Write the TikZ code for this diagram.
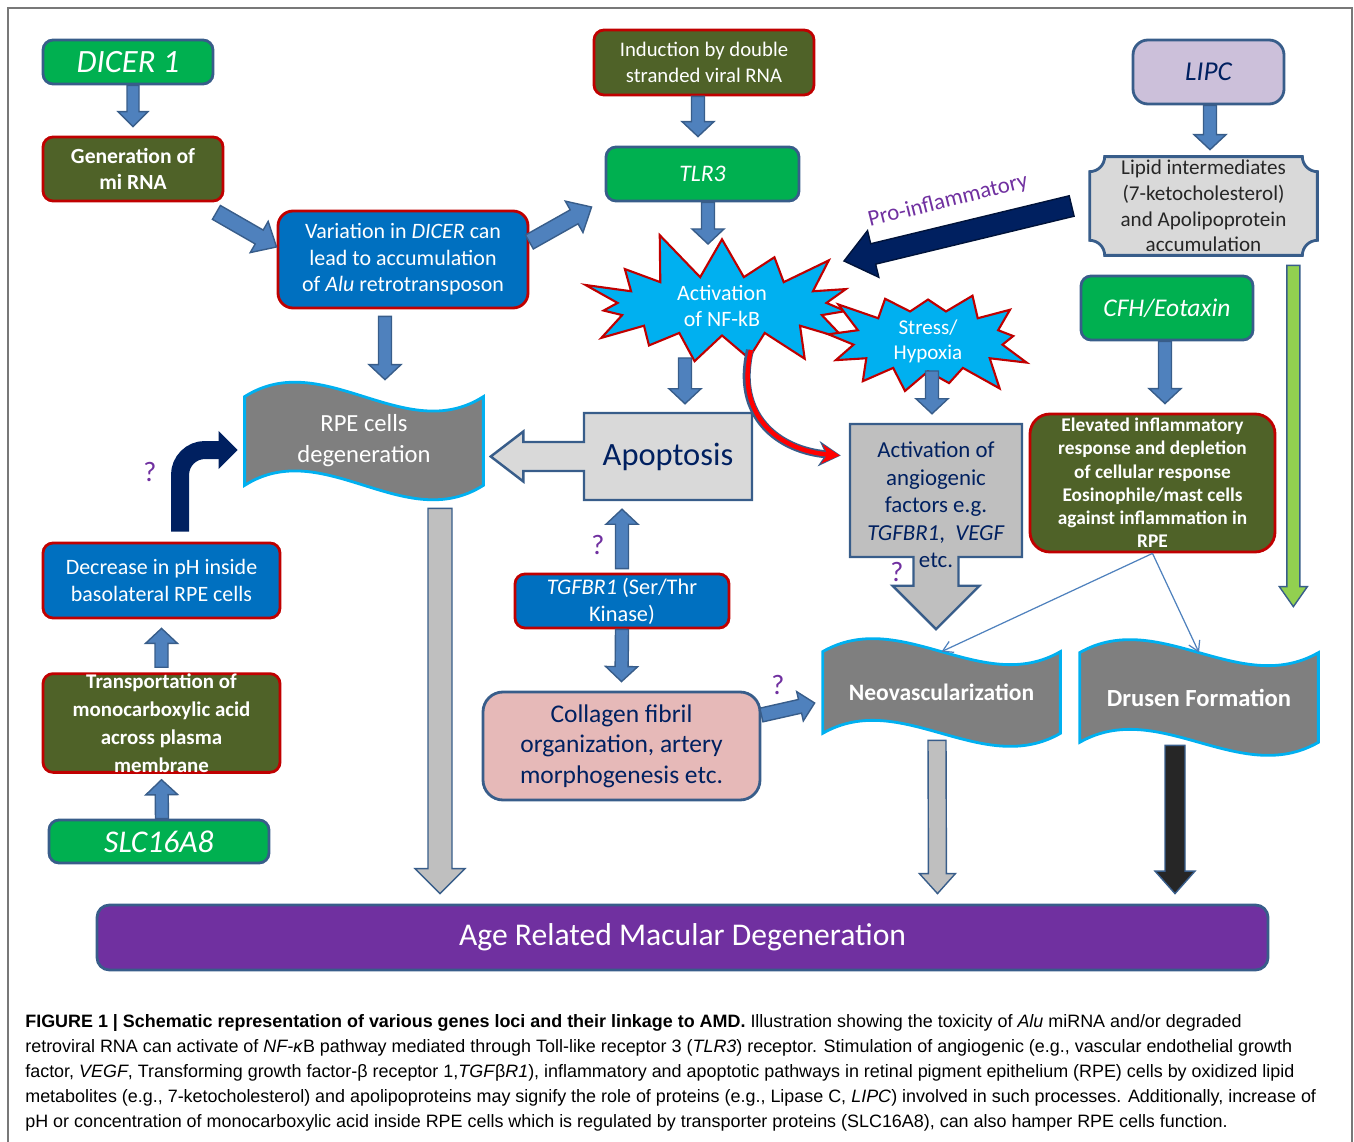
\documentclass[tikz,border=0pt]{standalone}
\usepackage{fontspec}
\setmainfont{Carlito}
\newfontfamily\capfont{Liberation Sans}
\usetikzlibrary{arrows.meta,calc,shapes.symbols,shapes.arrows,backgrounds}

\definecolor{olivebg}{RGB}{79,98,40}
\definecolor{boxred}{RGB}{192,0,0}
\definecolor{genegreen}{RGB}{0,176,80}
\definecolor{edgeblue}{RGB}{56,93,138}
\definecolor{boxblue}{RGB}{0,112,192}
\definecolor{arrblue}{RGB}{79,129,189}
\definecolor{burstcyan}{RGB}{0,176,240}
\definecolor{wavegray}{RGB}{127,127,127}
\definecolor{lightgray}{RGB}{217,217,217}
\definecolor{midgray}{RGB}{191,191,191}
\definecolor{darknavy}{RGB}{0,32,96}
\definecolor{qpurple}{RGB}{112,48,160}
\definecolor{pinkbg}{RGB}{230,185,184}
\definecolor{lavender}{RGB}{204,192,218}
\definecolor{limegreen}{RGB}{146,208,80}
\definecolor{nearblack}{RGB}{38,38,38}
\definecolor{framegray}{RGB}{120,120,120}

% block arrow: [style]{from}{to}{half shaft}{half head}{head length}
\newcommand\blockarrow[6][]{%
    \path (#2) coordinate (bas) (#3) coordinate (bae);
    \pgfpointdiff{\pgfpointanchor{bas}{center}}{\pgfpointanchor{bae}{center}}%
    \pgfgetlastxy{\badx}{\bady}%
    \pgfmathsetmacro\balen{veclen(\badx,\bady)}%
    \pgfmathsetmacro\baang{atan2(\bady,\badx)}%
    \draw[barrow,#1,shift={(bas)},rotate=\baang] (0pt,#4) -- ({\balen pt-#6},#4) -- ({\balen pt-#6},#5) -- (\balen pt,0pt) -- ({\balen pt-#6},-#5) -- ({\balen pt-#6},-#4) -- (0pt,-#4) -- cycle;
}
% wavy banner round a node: {node}{control offset}
\newcommand\wave[2]{%
    \filldraw[wavebox] (#1.north west) .. controls ($(#1.north west)!0.33!(#1.north east)+(0,-#2)$) and ($(#1.north west)!0.67!(#1.north east)+(0,#2)$) .. (#1.north east) -- (#1.south east) .. controls ($(#1.south west)!0.67!(#1.south east)+(0,#2)$) and ($(#1.south west)!0.33!(#1.south east)+(0,-#2)$) .. (#1.south west) -- cycle;
}

\begin{document}
\begin{tikzpicture}[x=0.2mm,y=-0.2mm,font=\fontsize{12.5}{15}\selectfont]
    \tikzstyle{box}=[rectangle,rounded corners=2mm,line width=1.6pt,align=center,inner sep=0pt]
    \tikzstyle{genebox}=[box,fill=genegreen,draw=edgeblue,text=white]
    \tikzstyle{olivebox}=[box,fill=olivebg,draw=boxred,text=white]
    \tikzstyle{bluebox}=[box,fill=boxblue,draw=boxred,text=white]
    \tikzstyle{wave}=[rectangle,text=white,align=center,inner sep=0pt]
    \tikzstyle{wavebox}=[fill=wavegray,draw=burstcyan,line width=1.6pt]
    \tikzstyle{burst}=[starburst,fill=burstcyan,draw=boxred,line width=1.2pt,text=white,align=center,inner sep=0pt]
    \tikzstyle{barrow}=[fill=arrblue,draw=edgeblue,line width=0.8pt]
    \tikzstyle{thinarr}=[draw=arrblue,line width=0.7pt,-{Straight Barb[length=2mm,width=2.4mm]}]
    \tikzstyle{qmark}=[text=qpurple,font=\fontsize{16}{16}\selectfont]

    \useasboundingbox (0,0) rectangle (1354,1142);
    \draw[framegray,line width=0.8pt] (8,1142) -- (8,8) -- (1352,8) -- (1352,1142);

    \node[genebox,minimum width=34mm,minimum height=8.8mm,font=\fontsize{18.5}{20}\selectfont\itshape] (dicer) at (128,62) {DICER 1};
    \node[olivebox,minimum width=36mm,minimum height=12.8mm,font=\fontsize{12.3}{15}\selectfont\bfseries] (gen) at (133,169) {Generation of\\mi RNA};
    \node[bluebox,rounded corners=3mm,minimum width=50mm,minimum height=19.4mm] (var) at (403,259.5) {Variation in \textit{DICER} can\\lead to accumulation\\of \textit{Alu} retrotransposon};
    \node[olivebox,minimum width=44mm,minimum height=13mm,font=\fontsize{11.8}{14.5}\selectfont] (induct) at (704,62.5) {Induction by double\\stranded viral RNA};
    \node[genebox,minimum width=38.6mm,minimum height=10.8mm,font=\fontsize{13.5}{15}\selectfont\itshape] (tlr) at (702.5,174) {TLR3};
    \node[burst,minimum width=62mm,minimum height=28mm,starburst points=15,starburst point height=10mm,random starburst=11] (nfkb) at (722,306) {Activation\\of NF-kB};
    \node[box,rounded corners=3mm,fill=lavender,draw=edgeblue,text=darknavy,minimum width=30.2mm,minimum height=12.8mm,font=\fontsize{15.5}{17}\selectfont\itshape] (lipc) at (1208.5,72) {LIPC};
    \node[align=center,text=nearblack,minimum width=45.4mm,minimum height=19.6mm,inner sep=0pt,font=\fontsize{12}{14.6}\selectfont] (lipid) at (1203.5,206) {Lipid intermediates\\(7-ketocholesterol)\\and Apolipoprotein\\accumulation};
    \node[text=qpurple,rotate=14,font=\fontsize{13}{13}\selectfont] (proinf) at (948,201) {Pro-inflammatory};
    \node[burst,minimum width=44mm,minimum height=22mm,starburst points=13,starburst point height=7mm,random starburst=3,font=\fontsize{12}{14.2}\selectfont] (stress) at (928,341) {Stress/\\Hypoxia};
    \node[genebox,minimum width=34.4mm,minimum height=12.8mm,font=\fontsize{14.5}{16}\selectfont\itshape] (cfh) at (1167,308) {CFH/Eotaxin};
    \node[olivebox,rounded corners=4mm,minimum width=49mm,minimum height=27.6mm,font=\fontsize{11}{13.2}\selectfont\bfseries] (elev) at (1152.5,483) {Elevated inflammatory\\response and depletion\\of cellular response\\Eosinophile/mast cells\\against inflammation in\\RPE};
    \node[arrow box,arrow box arrows={south:14.2mm},arrow box shaft width=9mm,arrow box head extend=4.2mm,fill=midgray,draw=edgeblue,line width=1.4pt,minimum width=34.4mm,minimum height=26.6mm] (angio) at (936,490.5) {};
    \node[text=darknavy,align=center,font=\fontsize{13}{15.6}\selectfont] (angiotext) at (936,505) {Activation of\\angiogenic\\factors e.g.\\\textit{TGFBR1}, \ \textit{VEGF}\\etc.};
    \node[arrow box,arrow box arrows={west:18.4mm},arrow box shaft width=5.8mm,arrow box head extend=2.1mm,arrow box tip angle=75,fill=lightgray,draw=edgeblue,line width=1.4pt,minimum width=33.6mm,minimum height=17.4mm,text=darknavy,font=\fontsize{18.5}{20}\selectfont] (apop) at (668,456.5) {Apoptosis};
    \node[wave,minimum width=47.6mm,minimum height=17.6mm,font=\fontsize{14}{17.6}\selectfont] (rpe) at (364,441) {RPE cells\\degeneration};
    \node[bluebox,minimum width=47.4mm,minimum height=15mm] (decr) at (161.5,580.5) {Decrease in pH inside\\basolateral RPE cells};
    \node[olivebox,minimum width=47.4mm,minimum height=19.2mm,font=\fontsize{11.9}{15.9}\selectfont\bfseries] (trans) at (161.5,723) {Transportation of\\monocarboxylic acid\\across plasma\\membrane};
    \node[genebox,minimum width=44mm,minimum height=8.6mm,font=\fontsize{18}{20}\selectfont\itshape] (slc) at (159,841.5) {SLC16A8};
    \node[bluebox,minimum width=42.8mm,minimum height=10.8mm,font=\fontsize{12.7}{15.3}\selectfont] (tgf) at (622,601) {\textit{TGFBR1} (Ser/Thr\\Kinase)};
    \node[box,rounded corners=4mm,fill=pinkbg,draw=edgeblue,text=darknavy,minimum width=55.4mm,minimum height=21.6mm,font=\fontsize{14.5}{17.3}\selectfont] (coll) at (621.5,746) {Collagen fibril\\organization, artery\\morphogenesis etc.};
    \node[wave,minimum width=47.4mm,minimum height=16.2mm,font=\fontsize{13.4}{15}\selectfont\bfseries] (neo) at (941.5,692.5) {Neovascularization};
    \node[wave,minimum width=47.6mm,minimum height=17.8mm,font=\fontsize{14}{16}\selectfont\bfseries] (drusen) at (1199,697.5) {Drusen Formation};
    \node[box,rounded corners=2.5mm,fill=qpurple,draw=edgeblue,text=white,minimum width=234.2mm,minimum height=13mm,font=\fontsize{18}{20}\selectfont] (amd) at (682.5,937.5) {Age Related Macular Degeneration};

    \node[qmark] (q1) at (150,472) {?};
    \node[qmark] (q2) at (598,545) {?};
    \node[qmark] (q3) at (897,572) {?};
    \node[qmark] (q4) at (778,685) {?};

    % plaque and banners behind their texts
    \begin{scope}[on background layer]
        \filldraw[fill=lightgray,draw=edgeblue,line width=1.6pt] ([xshift=3mm]lipid.north west) -- ([xshift=-3mm]lipid.north east) arc[start angle=180,end angle=270,radius=3mm] -- ([yshift=3mm]lipid.south east) arc[start angle=90,end angle=180,radius=3mm] -- ([xshift=3mm]lipid.south west) arc[start angle=0,end angle=90,radius=3mm] -- ([yshift=-3mm]lipid.north west) arc[start angle=270,end angle=360,radius=3mm] -- cycle;
        \wave{rpe}{50}
        \wave{neo}{45}
        \wave{drusen}{45}
    \end{scope}

    \blockarrow{[xshift=1mm]dicer.south}{[yshift=1.8mm]gen.north}{1.2mm}{3mm}{3mm}
    \blockarrow{[xshift=-1.6mm,yshift=-2mm]gen.south east}{[yshift=2.5mm]var.west}{1.6mm}{3.6mm}{4mm}
    \blockarrow{[yshift=3.5mm]var.east}{[xshift=-2.6mm,yshift=-6.6mm]tlr.west}{1.6mm}{3.6mm}{4mm}
    \blockarrow{[xshift=-3.6mm,yshift=-1.4mm]var.south}{[xshift=4.2mm,yshift=3.4mm]rpe.north}{1.3mm}{3.2mm}{3mm}
    \blockarrow{[xshift=-1.2mm]induct.south}{[xshift=-0.9mm,yshift=1.8mm]tlr.north}{1.3mm}{3.2mm}{3mm}
    \blockarrow{[xshift=1.1mm]tlr.south}{$(nfkb)+(-14,-62)$}{1.3mm}{3.2mm}{3mm}
    \blockarrow{$(nfkb)+(-37,52)$}{[xshift=3.4mm,yshift=1.6mm]apop.north}{1.3mm}{3.2mm}{3mm}
    \blockarrow{[xshift=0.3mm]lipc.south}{[xshift=1.3mm,yshift=1.4mm]lipid.north}{1.3mm}{3.2mm}{3mm}
    \blockarrow[fill=darknavy,draw=darknavy!60!black]{[xshift=-3.6mm]lipid.west}{$(nfkb)+(122,-45)$}{2.1mm}{4.8mm}{6mm}
    \blockarrow{$(stress)+(4,30)$}{[xshift=-0.8mm,yshift=1.8mm]angio.north}{1.3mm}{3.2mm}{3mm}
    \blockarrow{[xshift=-0.4mm]cfh.south}{[xshift=2.5mm,yshift=1.8mm]elev.north}{1.3mm}{3.2mm}{3mm}
    \blockarrow[fill=limegreen]{[xshift=-4.8mm,yshift=-2mm]lipid.south east}{[xshift=-5mm,yshift=9.2mm]drusen.north east}{1.3mm}{2.8mm}{4mm}
    \blockarrow{[yshift=1mm]trans.north}{[yshift=-1.8mm]decr.south}{1.3mm}{3.2mm}{3mm}
    \blockarrow{[xshift=0.6mm]slc.north}{[yshift=-1.2mm]trans.south}{1.3mm}{3.2mm}{3mm}
    \blockarrow{[yshift=0.8mm]tgf.north}{[xshift=-9.2mm,yshift=-1.6mm]apop.south}{1.3mm}{3.2mm}{3mm}
    \blockarrow{tgf.south}{[yshift=1.8mm]coll.north}{1.3mm}{3.2mm}{3mm}
    \blockarrow{[yshift=6.2mm]coll.east}{[xshift=-1.6mm,yshift=-2.1mm]neo.west}{1.4mm}{3mm}{3mm}
    \blockarrow[fill=midgray]{[xshift=15.2mm,yshift=-4.6mm]rpe.south}{$(rpe.south |- amd.north)+(76,-10)$}{2.4mm}{5mm}{5mm}
    \blockarrow[fill=midgray]{[xshift=-0.9mm,yshift=-1.4mm]neo.south}{$(neo.south |- amd.north)+(-4,-10)$}{1.8mm}{3.6mm}{4mm}
    \blockarrow[fill=nearblack]{[xshift=-4.8mm,yshift=-0.6mm]drusen.south}{$(drusen.south |- amd.north)+(-24,-10)$}{2mm}{4mm}{4.5mm}

    \draw[darknavy,line width=3.6mm,rounded corners=5mm,-{Triangle[width=7.4mm,length=3.8mm]}] ([xshift=3.7mm,yshift=2mm]decr.north) |- ([xshift=-1.4mm,yshift=-1.8mm]rpe.west);

    \draw[edgeblue,line width=1.6mm,-{Stealth[length=4.4mm,width=5mm]}] ($(nfkb)+(28,44)$) .. controls ($(nfkb)+(12,110)$) and ($(angio.west)+(-70,-40)$) .. ($(angio.west)+(-8,-35)$);
    \draw[red,line width=0.9mm,-{Stealth[length=3.6mm,width=3.8mm]}] ($(nfkb)+(29,44)$) .. controls ($(nfkb)+(13,110)$) and ($(angio.west)+(-70,-40)$) .. ($(angio.west)+(-9,-35)$);

    \draw[thinarr] (elev.south) -- (neo.north);
    \draw[thinarr] (elev.south) -- (drusen.north);

    \node[anchor=north west,align=left,inner sep=0pt,text=black,font=\capfont\fontsize{10.2}{14.2}\selectfont] (caption) at (25,1014) {\textbf{FIGURE 1 | Schematic representation of various genes loci and their linkage to AMD.} Illustration showing the toxicity of \textit{Alu} miRNA and/or degraded\\retroviral RNA can activate of \textit{NF-κ}B pathway mediated through Toll-like receptor 3 (\textit{TLR3}) receptor. Stimulation of angiogenic (e.g., vascular endothelial growth\\factor, \textit{VEGF}, Transforming growth factor-β receptor 1,\textit{TGF}β\textit{R1}), inflammatory and apoptotic pathways in retinal pigment epithelium (RPE) cells by oxidized lipid\\metabolites (e.g., 7-ketocholesterol) and apolipoproteins may signify the role of proteins (e.g., Lipase C, \textit{LIPC}) involved in such processes. Additionally, increase of\\pH or concentration of monocarboxylic acid inside RPE cells which is regulated by transporter proteins (SLC16A8), can also hamper RPE cells function.};
\end{tikzpicture}
\end{document}
